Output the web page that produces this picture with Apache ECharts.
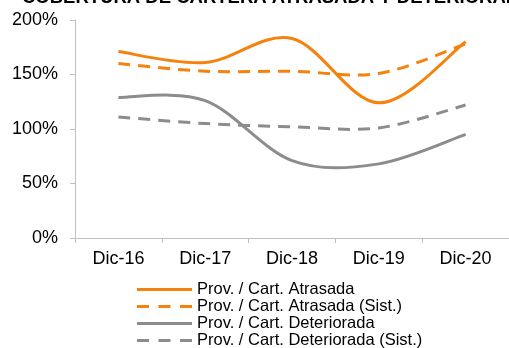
<!DOCTYPE html>
<html>
<head>
<meta charset="utf-8">
<script src="https://cdn.jsdelivr.net/npm/echarts@6/dist/echarts.min.js"></script>
<style>
  html, body { margin: 0; padding: 0; background: #fff; }
  #chart { width: 509px; height: 348px; }
</style>
</head>
<body>
<div id="chart"></div>
<script>
  var categories = ['Dic-16', 'Dic-17', 'Dic-18', 'Dic-19', 'Dic-20'];
  var atrasada = [171, 161, 183, 124, 180];
  var atrasadaSist = [160, 153, 153, 151, 178];
  var deteriorada = [129, 126, 71, 68, 95];
  var deterioradaSist = [111, 105, 102, 101, 122];
  var yTicks = [0, 50, 100, 150, 200];

  var orange = '#F5820D';
  var grey = '#8C8C8C';
  var font = 'Liberation Sans, Arial, sans-serif';

  var chart = echarts.init(document.getElementById('chart'));

  // excel style smoothing (catmull-rom -> bezier)
  function smoothLine(name, values, color, dashed) {
    return {
      name: name,
      type: 'custom',
      data: values.map(function (v, i) { return [i, v] }),
      itemStyle: { color: color },
      renderItem: function (params, api) {
        if (params.dataIndex !== 0) return null;
        var pts = values.map(function (v, i) { return api.coord([i, v]) });
        var n = pts.length;
        var d = 'M' + pts[0][0] + ',' + pts[0][1];
        for (var i = 0; i < n - 1; i++) {
          var p0 = pts[Math.max(i - 1, 0)], p1 = pts[i], p2 = pts[i + 1], p3 = pts[Math.min(i + 2, n - 1)];
          var c1x = p1[0] + (p2[0] - p0[0]) / 6, c1y = p1[1] + (p2[1] - p0[1]) / 6;
          var c2x = p2[0] - (p3[0] - p1[0]) / 6, c2y = p2[1] - (p3[1] - p1[1]) / 6;
          d += ' C' + c1x + ',' + c1y + ' ' + c2x + ',' + c2y + ' ' + p2[0] + ',' + p2[1];
        }
        return {
          type: 'path',
          shape: { pathData: d },
          style: {
            fill: 'none',
            stroke: color,
            lineWidth: 3,
            lineDash: dashed ? [12, 8] : null
          }
        }
      }
    }
  }

  var solidIcon = 'path://M0,0h55v3h-55z';
  var dashIcon = 'path://M0,0h12v3h-12z M21.5,0h12v3h-12z M43,0h12v3h-12z';

  var option = {
    animation: false,
    graphic: [{
      type: 'text',
      left: 22,
      top: -12,
      style: {
        text: 'COBERTURA DE CARTERA ATRASADA Y DETERIORADA',
        font: 'bold 18.5px ' + font,
        fill: '#000'
      }
    }],
    grid: {
      left: 75,
      right: -8.5,
      top: 20,
      bottom: 110,
      containLabel: false
    },
    xAxis: {
      type: 'category',
      data: categories,
      boundaryGap: true,
      axisLine: { lineStyle: { color: '#BFBFBF', width: 1 } },
      axisTick: { show: true, length: 5, lineStyle: { color: '#BFBFBF' } },
      axisLabel: {
        color: '#000',
        fontFamily: font,
        fontSize: 18,
        margin: 12
      }
    },
    yAxis: {
      type: 'value',
      min: yTicks[0],
      max: yTicks[yTicks.length - 1],
      interval: 50,
      axisLine: { show: true, lineStyle: { color: '#BFBFBF', width: 1 } },
      axisTick: { show: true, length: 5, lineStyle: { color: '#BFBFBF' } },
      splitLine: { show: false },
      axisLabel: {
        color: '#000',
        fontFamily: font,
        fontSize: 18,
        margin: 17,
        formatter: '{value}%'
      }
    },
    legend: {
      orient: 'vertical',
      left: 137,
      top: 281,
      width: 360,
      height: 80,
      itemWidth: 55,
      itemHeight: 3,
      itemGap: 0,
      padding: 0,
      textStyle: {
        color: '#000',
        fontFamily: font,
        fontSize: 16.5,
        lineHeight: 15.7
      },
      data: [
        { name: 'Prov. / Cart. Atrasada', icon: solidIcon },
        { name: 'Prov. / Cart. Atrasada (Sist.)', icon: dashIcon },
        { name: 'Prov. / Cart. Deteriorada', icon: solidIcon },
        { name: 'Prov. / Cart. Deteriorada (Sist.)', icon: dashIcon }
      ]
    },
    series: [
      smoothLine('Prov. / Cart. Atrasada', atrasada, orange, false),
      smoothLine('Prov. / Cart. Atrasada (Sist.)', atrasadaSist, orange, true),
      smoothLine('Prov. / Cart. Deteriorada', deteriorada, grey, false),
      smoothLine('Prov. / Cart. Deteriorada (Sist.)', deterioradaSist, grey, true)
    ]
  };

  chart.setOption(option);
</script>
</body>
</html>
